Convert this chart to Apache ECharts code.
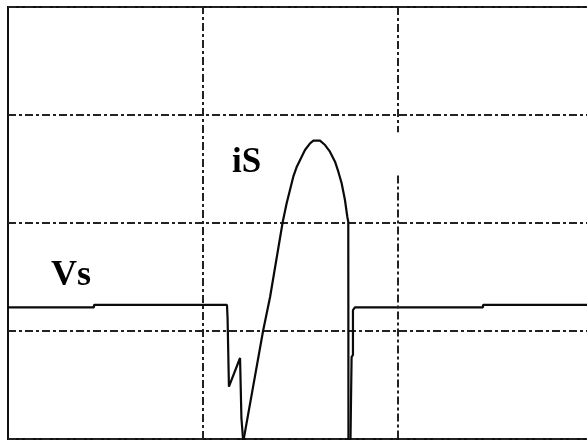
<!DOCTYPE html>
<html>
<head>
<meta charset="utf-8">
<script src="https://cdn.jsdelivr.net/npm/echarts@6/dist/echarts.min.js"></script>
<style>
  html, body { margin: 0; padding: 0; background: #fff; }
  #chart { width: 587px; height: 440px; }
</style>
</head>
<body>
<div id="chart"></div>
<script>
// Oscilloscope capture: switch voltage Vs and switch current iS.
// Horizontal unit = one time division, vertical unit = one screen division.

// Vs trace (time in divisions, level in divisions from the bottom of the screen)
const vsTime  = [0, 0.441, 0.441, 1.123, 1.126, 1.133, 1.133, 1.141, 1.190, 1.195, 1.197, 1.205, 1.208,
                 1.756, 1.762, 1.769, 1.769, 1.779, 2.436, 2.436, 3.0];
const vsLevel = [1.219, 1.219, 1.241, 1.241, 1.120, 1.102, 0.484, 0.484, 0.750, 0.750, 0.194, 0.194, -0.06,
                 -0.06, 0.759, 0.778, 1.194, 1.219, 1.219, 1.241, 1.241];

// iS trace
const isTime  = [1.203, 1.308, 1.344, 1.409, 1.429, 1.446, 1.463, 1.481, 1.506, 1.523, 1.549, 1.566,
                 1.600, 1.626, 1.651, 1.677, 1.694, 1.711, 1.728, 1.740, 1.745, 1.746];
const isLevel = [-0.06, 1.0, 1.315, 2.012, 2.182, 2.306, 2.429, 2.521, 2.614, 2.676, 2.738, 2.762,
                 2.762, 2.722, 2.660, 2.568, 2.475, 2.368, 2.213, 2.058, 2.012, -0.06];

// Screen graticule
const timeDivisions = [1, 2];          // vertical graticule lines
const secondLineGap = [2.44, 2.84];    // faded stretch on the second vertical line
const traceNames = ['Vs', 'iS'];

const zip = (a, b) => a.map((v, i) => [v, b[i]]);

const gridDash = [8, 3, 3, 3];
const gridLine = { color: '#222', width: 2, type: gridDash };

const verticalLines = [
  [{ coord: [timeDivisions[0], 0] }, { coord: [timeDivisions[0], 4] }],
  [{ coord: [timeDivisions[1], 4] }, { coord: [timeDivisions[1], secondLineGap[1]] }],
  [{ coord: [timeDivisions[1], secondLineGap[0]] }, { coord: [timeDivisions[1], 0] }]
];

const chart = echarts.init(document.getElementById('chart'), null, { renderer: 'canvas' });

chart.setOption({
  animation: false,
  backgroundColor: '#ffffff',
  grid: {
    left: 8, top: 7, right: -6, bottom: 1,
    outerBoundsMode: 'none',
    containLabel: false,
    show: true, borderColor: '#111', borderWidth: 2, backgroundColor: 'transparent'
  },
  xAxis: {
    type: 'value', min: 0, max: 3, interval: 1,
    axisLine: { show: false }, axisTick: { show: false }, axisLabel: { show: false },
    splitLine: { show: false }
  },
  yAxis: {
    type: 'value', min: 0, max: 4, interval: 1,
    axisLine: { show: false }, axisTick: { show: false }, axisLabel: { show: false },
    splitLine: { show: true, lineStyle: gridLine }
  },
  series: [
    {
      name: traceNames[0],
      type: 'line',
      data: zip(vsTime, vsLevel),
      showSymbol: false, symbol: 'none',
      clip: true,
      lineStyle: { color: '#0a0a0a', width: 2.2 },
      markLine: {
        silent: true,
        symbol: ['none', 'none'],
        label: { show: false },
        lineStyle: gridLine,
        data: verticalLines
      },
      z: 3
    },
    {
      name: traceNames[1],
      type: 'line',
      data: zip(isTime, isLevel),
      showSymbol: false, symbol: 'none',
      clip: true,
      lineStyle: { color: '#0a0a0a', width: 2.2 },
      z: 3
    }
  ],
  graphic: [
    {
      type: 'text', left: 51, top: 258,
      style: {
        text: traceNames[0],
        font: 'bold 36px "Liberation Serif", "Times New Roman", serif',
        fill: '#000'
      }
    },
    {
      type: 'text', left: 232, top: 145,
      style: {
        text: traceNames[1],
        font: 'bold 35px "Liberation Serif", "Times New Roman", serif',
        fill: '#000'
      }
    }
  ]
});
</script>
</body>
</html>
